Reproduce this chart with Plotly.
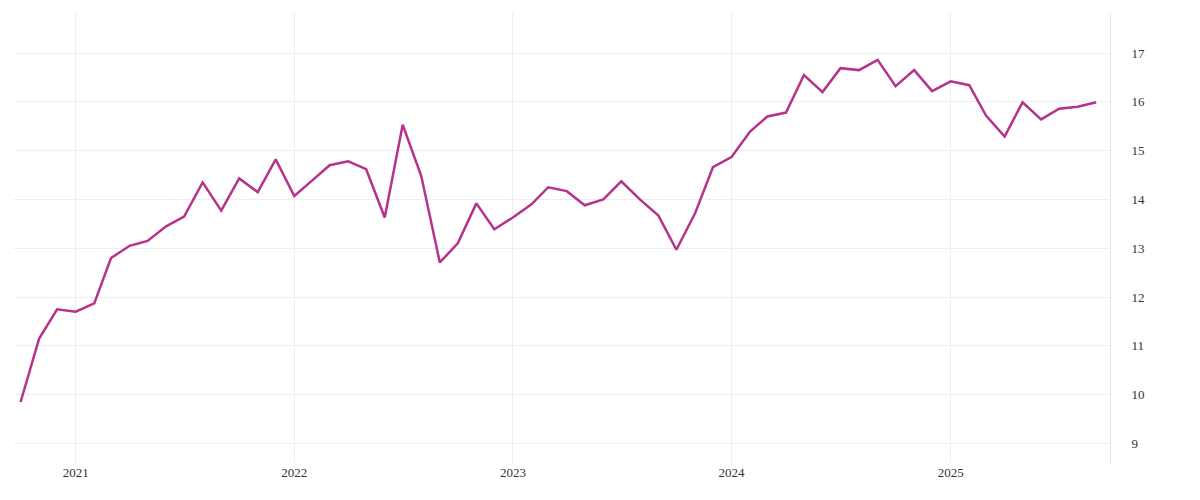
import pandas as pd
import plotly.graph_objects as go

dates = pd.date_range("2020-10-01", "2025-09-01", freq="MS")
values = [
    9.85, 11.15, 11.75,
    11.7, 11.87, 12.8, 13.05, 13.15, 13.45, 13.65, 14.35, 13.77, 14.43, 14.15, 14.82,
    14.07, 14.4, 14.7, 14.78, 14.62, 13.63, 15.53, 14.48, 12.71, 13.1, 13.92, 13.39,
    13.63, 13.9, 14.25, 14.17, 13.88, 14.0, 14.37, 14.0, 13.67, 12.97, 13.71, 14.66,
    14.87, 15.39, 15.7, 15.78, 16.55, 16.2, 16.69, 16.65, 16.86, 16.32, 16.65, 16.22,
    16.42, 16.34, 15.72, 15.29, 15.99, 15.64, 15.86, 15.9, 15.99,
]
tick_years = ["2021-01-01", "2022-01-01", "2023-01-01", "2024-01-01", "2025-01-01"]
tick_labels = ["2021", "2022", "2023", "2024", "2025"]
y_ticks = list(range(9, 18))

fig = go.Figure(go.Scatter(
    x=dates, y=values, mode="lines",
    line=dict(color="#b5338a", width=2.5),
))

fig.update_layout(
    width=1200, height=500,
    margin=dict(l=6, r=98, t=5, b=45),
    paper_bgcolor="white", plot_bgcolor="white",
    showlegend=False,
    font=dict(family="Liberation Serif", size=13, color="#333"),
)
fig.update_xaxes(
    range=["2020-09-20", "2025-09-24"],
    tickvals=tick_years, ticktext=tick_labels,
    showgrid=True, gridcolor="#eeeeee", zeroline=False,
    showline=False, ticks="",
)
fig.update_yaxes(
    side="right", range=[8.6, 17.82], tickvals=y_ticks,
    showgrid=True, gridcolor="#eeeeee", zeroline=False,
    showline=True, linecolor="#e6e6e6", ticks="", ticklabelstandoff=18,
)

fig.write_html("out.html")
